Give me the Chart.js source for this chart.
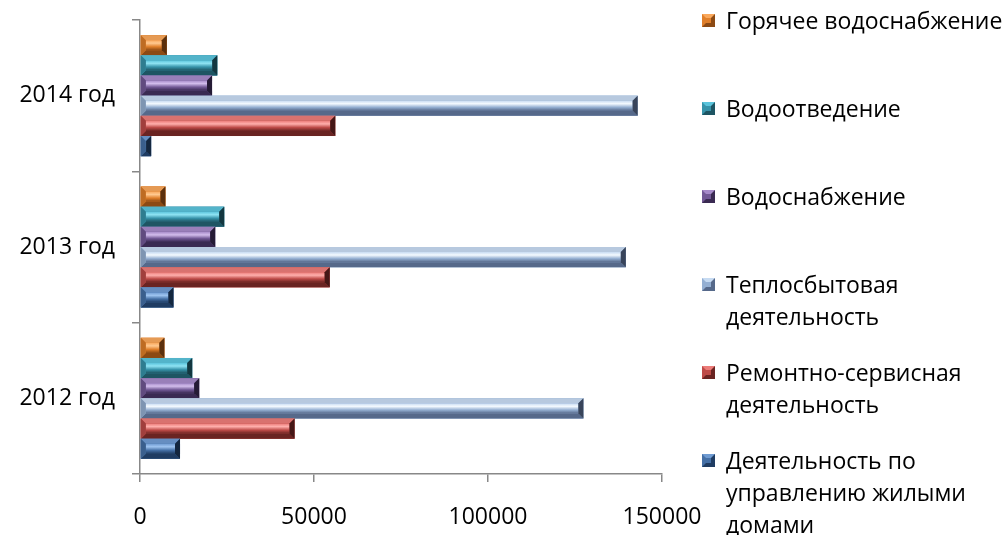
<!DOCTYPE html>
<html>
<head>
<meta charset="utf-8">
<script src="https://cdn.jsdelivr.net/npm/chart.js@4.4.1/dist/chart.umd.min.js"></script>
<style>
  html, body { margin: 0; padding: 0; background: #fff; }
  #wrap { position: relative; width: 1005px; height: 535px; }
  #legend { position: absolute; left: 702px; top: 0; font-family: 'Open Sans'; font-size: 23px; line-height: 32px; color: #000; }
  .item { position: absolute; left: 0; width: 310px; }
  .mark { position: absolute; left: 0; top: 10px; width: 5px; height: 5px; border: 4px solid; }
  .txt { position: absolute; left: 24px; top: 0; width: 285px; }
</style>
</head>
<body>
<div id="wrap">
  <canvas id="chart" width="1005" height="535"></canvas>
  <div id="legend"></div>
</div>
<script>
// categories top to bottom
const categories = ['2014 год', '2013 год', '2012 год'];
const xTicks = [0, 50000, 100000, 150000];

const seriesNames = [
  'Горячее водоснабжение',
  'Водоотведение',
  'Водоснабжение',
  'Теплосбытовая деятельность',
  'Ремонтно-сервисная деятельность',
  'Деятельность по управлению жилыми домами'
];

const hotWater   = [7700, 7300, 7000];
const drainage   = [22200, 24200, 15000];
const waterSup   = [20700, 21600, 17000];
const heatSales  = [143000, 139600, 127400];
const repair     = [56100, 54500, 44400];
const management = [3200, 9600, 11500];

const seriesValues = [hotWater, drainage, waterSup, heatSales, repair, management];

// colours for the bevelled bars
const palette = [
  { hi: '#FFC990', light: '#F9A85C', base: '#E07F2A', dark: '#8C4A14' },
  { hi: '#8FE3F3', light: '#5BC4DC', base: '#3793AA', dark: '#1E5563' },
  { hi: '#D2BDEC', light: '#A68AC9', base: '#725996', dark: '#3A2A52' },
  { hi: '#F4FAFF', light: '#C7DBF2', base: '#94AFD2', dark: '#56698A' },
  { hi: '#FFAFAC', light: '#EC7C79', base: '#BE4B48', dark: '#6A2422' },
  { hi: '#9EC4F0', light: '#6F9BD2', base: '#4570A6', dark: '#1F3C62' }
];

const font = { family: 'Open Sans', size: 23 };
const axisGrey = '#888888';

// redraws each bar with a bevelled look
const bevelBars = {
  id: 'bevelBars',
  afterDatasetsDraw(chart) {
    const ctx = chart.ctx;
    chart.data.datasets.forEach((ds, di) => {
      const meta = chart.getDatasetMeta(di);
      const c = palette[di];
      meta.data.forEach(bar => {
        const p = bar.getProps(['x', 'y', 'base', 'height'], true);
        const l = Math.min(p.x, p.base), r = Math.max(p.x, p.base);
        const t = p.y - p.height / 2, b = p.y + p.height / 2;
        if (r - l < 1) return;
        const e = Math.min(5, (b - t) / 2 - 1, (r - l) / 2);
        const poly = (pts, col) => {
          ctx.beginPath();
          ctx.moveTo(pts[0][0], pts[0][1]);
          for (let i = 1; i < pts.length; i++) ctx.lineTo(pts[i][0], pts[i][1]);
          ctx.closePath();
          ctx.fillStyle = col;
          ctx.fill();
        };
        ctx.save();
        ctx.fillStyle = c.base;
        ctx.fillRect(l, t, r - l, b - t);
        // face
        const g = ctx.createLinearGradient(0, t + e, 0, b - e);
        g.addColorStop(0, c.light);
        g.addColorStop(0.3, c.hi);
        g.addColorStop(0.65, c.base);
        g.addColorStop(1, c.dark);
        ctx.fillStyle = g;
        ctx.fillRect(l + e, t + e, r - l - 2 * e, b - t - 2 * e);
        // bevel edges
        poly([[l, t], [r, t], [r - e, t + e], [l + e, t + e]], c.light);
        poly([[l, t], [r, t], [r - e, t + e], [l + e, t + e]], 'rgba(0,0,0,0.08)');
        poly([[l, b], [r, b], [r - e, b - e], [l + e, b - e]], c.dark);
        poly([[l, t], [l, b], [l + e, b - e], [l + e, t + e]], c.base);
        poly([[l, t], [l, b], [l + e, b - e], [l + e, t + e]], 'rgba(0,0,0,0.15)');
        poly([[r, t], [r, b], [r - e, b - e], [r - e, t + e]], c.dark);
        poly([[r, t], [r, b], [r - e, b - e], [r - e, t + e]], 'rgba(0,0,0,0.35)');
        ctx.restore();
      });
    });
  }
};

const chart = new Chart(document.getElementById('chart'), {
  type: 'bar',
  data: {
    labels: categories,
    datasets: seriesNames.map((name, i) => ({
      label: name,
      data: seriesValues[i],
      backgroundColor: palette[i].base,
      borderWidth: 0,
      categoryPercentage: 0.8,
      barPercentage: 1.0
    }))
  },
  options: {
    indexAxis: 'y',
    responsive: false,
    animation: false,
    layout: { padding: { top: 20, right: 343, left: 0, bottom: 0 } },
    plugins: {
      legend: { display: false },
      tooltip: { enabled: false }
    },
    scales: {
      x: {
        min: 0,
        max: 150000,
        afterBuildTicks: scale => { scale.ticks = xTicks.map(v => ({ value: v })); },
        afterFit: scale => { scale.height = 61; scale.paddingLeft = 0; scale.paddingRight = 0; },
        ticks: { font: font, color: '#000', padding: 22, maxRotation: 0, callback: v => String(v) },
        grid: { drawOnChartArea: false, color: axisGrey, lineWidth: 1.5, tickLength: 8 },
        border: { color: axisGrey, width: 1.5 }
      },
      y: {
        afterFit: scale => { scale.width = 140; scale.paddingTop = 0; scale.paddingBottom = 0; },
        ticks: { font: font, color: '#000', padding: 17 },
        grid: { drawOnChartArea: false, color: axisGrey, lineWidth: 1.5, tickLength: 8, offset: true },
        border: { color: axisGrey, width: 1.5 }
      }
    }
  },
  plugins: [bevelBars]
});

// html legend on the right
const legend = document.getElementById('legend');
seriesNames.forEach((name, i) => {
  const c = palette[i];
  const item = document.createElement('div');
  item.className = 'item';
  item.style.top = (4 + i * 88) + 'px';
  const mark = document.createElement('div');
  mark.className = 'mark';
  mark.style.background = c.base;
  mark.style.borderColor = c.light + ' ' + c.dark + ' ' + c.dark + ' ' + c.base;
  const txt = document.createElement('div');
  txt.className = 'txt';
  txt.textContent = name;
  item.appendChild(mark);
  item.appendChild(txt);
  legend.appendChild(item);
});
</script>
</body>
</html>
